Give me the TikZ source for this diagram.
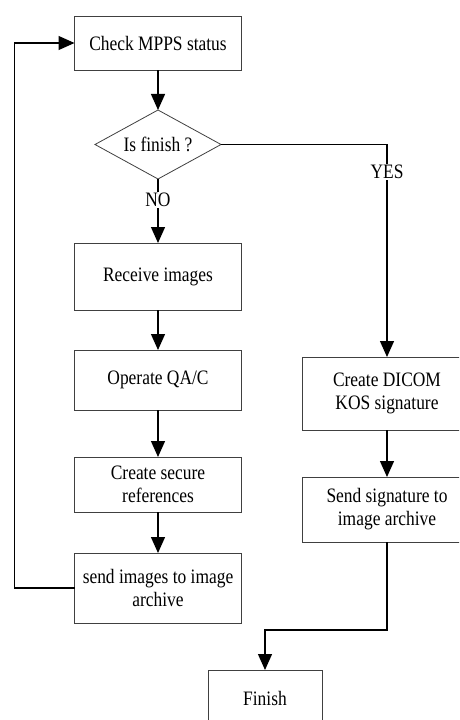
\documentclass[tikz,border=0pt]{standalone}
\usepackage{fontspec}
\setmainfont[FakeStretch=0.85]{Liberation Serif}
\usetikzlibrary{arrows.meta, positioning, shapes.geometric}

\begin{document}
\begin{tikzpicture}[
  block/.style={draw=black!75,line width=0.8pt,rectangle,minimum width=167pt,align=center,outer sep=0pt,
    font=\fontsize{20.5pt}{23pt}\selectfont},
  rblock/.style={block,minimum width=170pt},
  decision/.style={draw=black!75,line width=0.8pt,diamond,aspect=1.8,inner sep=0pt,outer sep=0pt,
    minimum width=126pt,minimum height=69pt,font=\fontsize{20.5pt}{23pt}\selectfont},
  lbl/.style={fill=white,inner sep=1pt,font=\fontsize{20.5pt}{23pt}\selectfont},
  arr/.style={line width=1.3pt,-{Triangle[length=16pt,width=14pt]}},
  >={Triangle}
]
\useasboundingbox (0,0) rectangle (459pt,-720pt);
\clip (0,0) rectangle (459pt,-720pt);
\fill[white] (0,0) rectangle (459pt,-720pt);

% Nodes
\node[block, minimum height=54pt] (check) at (158pt,-43pt) {Check MPPS status};
\node[decision, below=40pt of check] (fin) {Is finish ?};
\node[block, minimum height=67pt, below=64pt of fin] (recv) {Receive images};
\node[block, minimum height=60pt, below=40pt of recv] (qa) {Operate QA/C};
\node[block, minimum height=55pt, below=47pt of qa] (secure) {Create secure\\references};
\node[block, minimum height=70pt, below=41pt of secure] (send) {send images to image\\archive};
\node[rblock, minimum height=73pt] (kos) at (387pt,-393.5pt) {Create DICOM\\KOS signature};
\node[rblock, minimum height=65pt, below=47pt of kos] (sig) {Send signature to\\image archive};
\node[block, minimum width=114pt, minimum height=56pt] (finish) at (265pt,-698pt) {Finish};

% Connections
\draw[arr] (check) -- (fin);
\draw[arr] (fin) -- node[lbl, pos=0.33] {NO} (recv);
\draw[arr] (fin.east) -| node[lbl, pos=0.564] {YES} (kos.north);
\draw[arr] (recv) -- (qa);
\draw[arr] (qa) -- (secure);
\draw[arr] (secure) -- (send);
\draw[arr] (send.west) -- ++(-60pt,0) |- (check.west);
\draw[arr] (kos) -- (sig);
\draw[arr] (sig.south) -- ++(0,-88pt) -| (finish.north);

\end{tikzpicture}
\end{document}
